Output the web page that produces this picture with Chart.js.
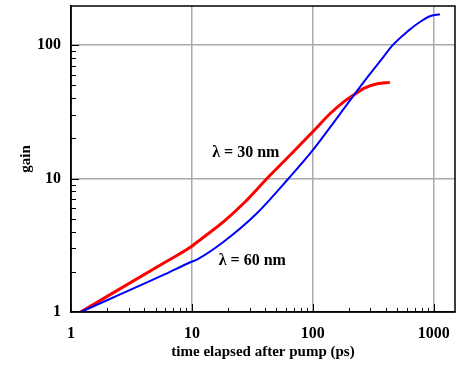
<!DOCTYPE html>
<html>
<head>
<meta charset="utf-8">
<script src="https://cdn.jsdelivr.net/npm/chart.js@4.4.1/dist/chart.umd.min.js"></script>
<style>
  html, body { margin: 0; padding: 0; background: #fff; }
  #wrap { width: 463px; height: 365px; }
</style>
</head>
<body>
<div id="wrap"><canvas id="chart" width="463" height="365"></canvas></div>
<script>
// ── Data (log-log) ─────────────────────────────
const redX  = [1.2, 6, 9.7, 11, 18.3, 26.8, 41.8, 65, 100, 140, 180, 218, 264, 341, 434];
const redY  = [1.0, 2.36, 3.05, 3.33, 4.75, 6.52, 10, 15.0, 22.4, 30.8, 37.5, 42.2, 47.4, 51.3, 52.5];
const blueX = [1.2, 6, 9.7, 11, 18.3, 34.5, 63, 100, 159, 190, 218, 294, 370, 454, 604, 779, 942, 1125];
const blueY = [1.0, 1.92, 2.36, 2.47, 3.36, 5.49, 10, 16.3, 28.5, 35.5, 42, 60, 78, 99, 126, 150, 165, 170];
const xTickLabels = [1, 10, 100, 1000];
const yTickLabels = [1, 10, 100];
const labels = [
    { text: 'λ = 30 nm', x: 27.9, y: 15.6 },
    { text: 'λ = 60 nm', x: 31.6, y: 2.42 }
];

const FONT = "'Liberation Serif', 'Times New Roman', serif";
const toPts = (xs, ys) => xs.map((x, i) => ({ x, y: ys[i] }));
const isDecade = v => Math.abs(Math.log10(v) - Math.round(Math.log10(v))) < 1e-9;
const gridColor = c => (isDecade(c.tick.value) && c.tick.value > 1 ? '#aaaaaa' : 'rgba(0,0,0,0)');

// ── Frame, inward ticks, annotations ───────────
const decor = {
    id: 'decor',
    afterDraw(chart) {
        const { ctx, chartArea: a, scales: { x, y } } = chart;
        ctx.save();
        ctx.strokeStyle = '#000';
        ctx.lineWidth = 1.5;
        ctx.strokeRect(a.left, a.top, a.right - a.left, a.bottom - a.top);

        ctx.lineWidth = 1;
        ctx.beginPath();
        for (let d = 1; d <= 1000; d *= 10) {
            for (let m = 1; m <= 9; m++) {
                const v = d * m;
                if (v <= x.min || v >= x.max) continue;
                const len = m === 1 ? 8 : 4;
                const px = Math.round(x.getPixelForValue(v)) + 0.5;
                ctx.moveTo(px, a.bottom);
                ctx.lineTo(px, a.bottom - len);
            }
        }
        for (let d = 1; d <= 100; d *= 10) {
            for (let m = 1; m <= 9; m++) {
                const v = d * m;
                if (v <= y.min || v >= y.max) continue;
                const len = m === 1 ? 8 : 5;
                const py = Math.round(y.getPixelForValue(v)) + 0.5;
                ctx.moveTo(a.left, py);
                ctx.lineTo(a.left + len, py);
            }
        }
        ctx.stroke();

        ctx.fillStyle = '#000';
        ctx.font = `bold 16px ${FONT}`;
        ctx.textAlign = 'center';
        ctx.textBaseline = 'middle';
        labels.forEach(l => {
            ctx.fillText(l.text, x.getPixelForValue(l.x), y.getPixelForValue(l.y));
        });
        ctx.restore();
    }
};

new Chart(document.getElementById('chart'), {
    type: 'scatter',
    data: {
        datasets: [
            {
                data: toPts(blueX, blueY),
                showLine: true,
                borderColor: '#0000ff',
                borderWidth: 2,
                pointRadius: 0,
                cubicInterpolationMode: 'monotone',
                fill: false
            },
            {
                data: toPts(redX, redY),
                showLine: true,
                borderColor: '#ff0000',
                borderWidth: 3,
                pointRadius: 0,
                cubicInterpolationMode: 'monotone',
                fill: false
            }
        ]
    },
    options: {
        responsive: false,
        animation: false,
        layout: { padding: { top: 6, right: 8, left: 0, bottom: 0 } },
        plugins: { legend: { display: false }, tooltip: { enabled: false } },
        scales: {
            x: {
                type: 'logarithmic',
                min: 1,
                max: 1500,
                afterFit: s => { s.height = 53; s.paddingLeft = 0; s.paddingRight = 0; },
                grid: { drawTicks: false, lineWidth: 1.5, color: gridColor },
                border: { color: '#000', width: 1.5 },
                ticks: {
                    autoSkip: false,
                    maxRotation: 0,
                    padding: 12,
                    color: '#000',
                    font: { family: FONT, size: 16, weight: 'bold' },
                    callback: v => (xTickLabels.includes(v) ? String(v) : '')
                },
                title: {
                    display: true,
                    text: 'time elapsed after pump (ps)',
                    color: '#000',
                    padding: { top: 0, bottom: 4 },
                    font: { family: FONT, size: 15, weight: 'bold' }
                }
            },
            y: {
                type: 'logarithmic',
                min: 1,
                max: 196,
                afterFit: s => { s.width = 71; s.paddingTop = 0; s.paddingBottom = 0; },
                grid: { drawTicks: false, lineWidth: 1.5, color: gridColor },
                border: { color: '#000', width: 1.5 },
                ticks: {
                    autoSkip: false,
                    padding: 10,
                    color: '#000',
                    font: { family: FONT, size: 16, weight: 'bold' },
                    callback: v => (yTickLabels.includes(v) ? String(v) : '')
                },
                title: {
                    display: true,
                    text: 'gain',
                    color: '#000',
                    padding: { top: 17, bottom: 0 },
                    font: { family: FONT, size: 15, weight: 'bold' }
                }
            }
        }
    },
    plugins: [decor]
});
</script>
</body>
</html>
